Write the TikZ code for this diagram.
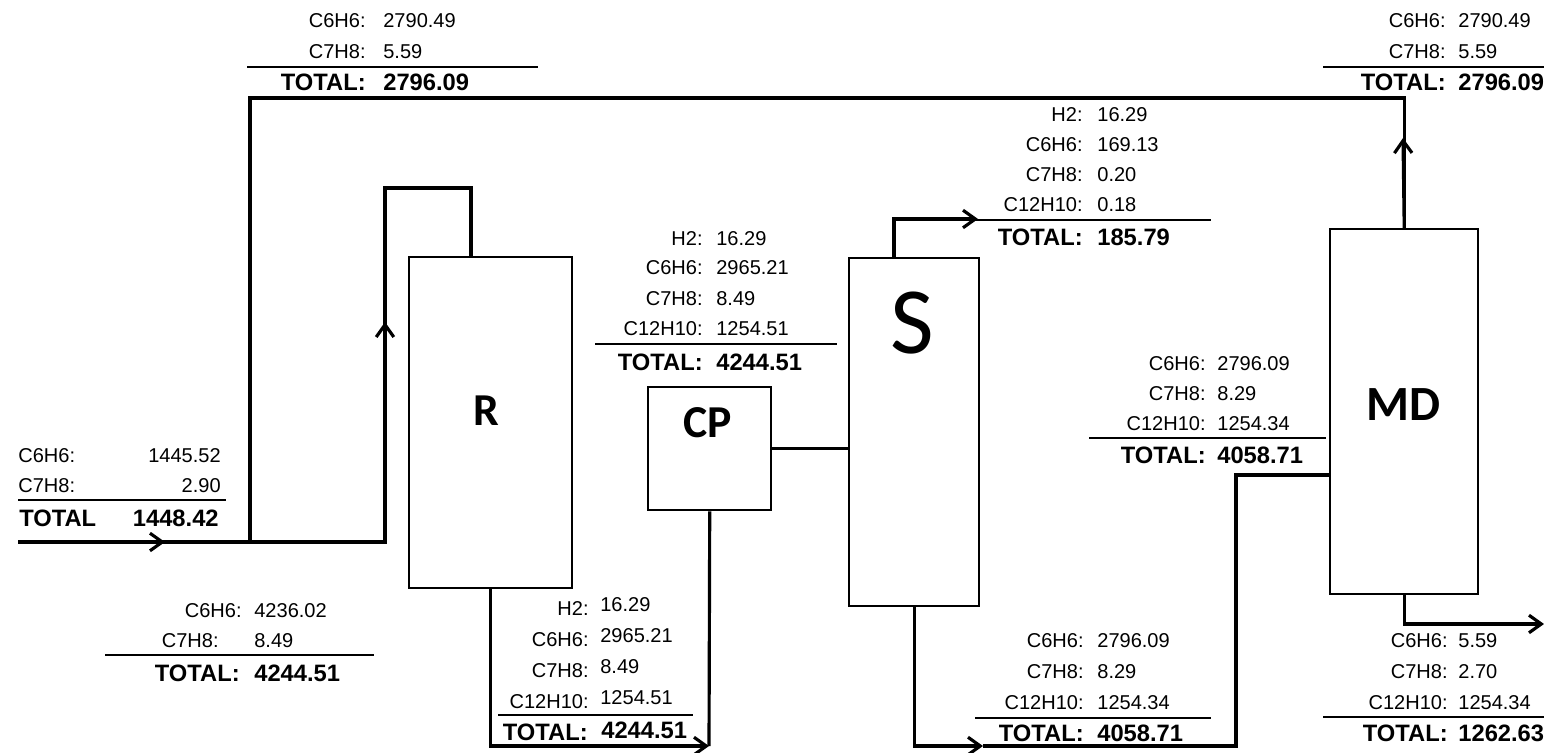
\documentclass[tikz,border=0pt]{standalone}
\usepackage{fontspec}
\setmainfont{Liberation Sans}
\newfontfamily\unitfont{Carlito}
\usepackage{tikz}
\usetikzlibrary{arrows.meta}
\tikzset{
  unit/.style={draw,line width=1.4pt,inner sep=0pt,anchor=north west},
  unitname/.style={anchor=base,inner sep=0pt,font=\unitfont\bfseries\fontsize{26}{26}\selectfont},
  flow/.style={line width=1.8pt},
  arr/.style={line width=1.8pt,-{Straight Barb[length=7pt,width=10pt]}},
  rule/.style={line width=1.4pt},
  lab/.style={inner sep=0pt,font=\fontsize{11.4}{13}\selectfont},
  key/.style={lab,anchor=base east},
  val/.style={lab,anchor=base west},
  tot/.style={inner sep=0pt,font=\bfseries\fontsize{13.5}{15}\selectfont},
  totkey/.style={tot,anchor=base east},
  totval/.style={tot,anchor=base west}
}
\begin{document}
\begin{tikzpicture}[x=0.02cm,y=-0.02cm]
\useasboundingbox (0,0) rectangle (1544,753);
% units
\node[unit,minimum width=3.26cm,minimum height=6.62cm] (R) at (408,256) {};
\node[unit,minimum width=2.46cm,minimum height=2.46cm] (CP) at (647,386) {};
\node[unit,minimum width=2.6cm,minimum height=6.96cm] (S) at (848,257) {};
\node[unit,minimum width=2.96cm,minimum height=7.3cm] (MD) at (1329,228) {};
\node[unitname] (Rname) at (486,425) {R};
\node[unitname] (CPname) at (708,437) {CP};
\node[unitname,font=\unitfont\fontsize{54}{54}\selectfont] (Sname) at (912,353) {S};
\node[unitname,font=\unitfont\bfseries\fontsize{28}{28}\selectfont] (MDname) at (1403,420) {MD};
% streams
\coordinate (feed) at (18,542);
\coordinate (mix) at (250,542);
\coordinate (up) at (385,188);
\coordinate (top) at (250,98);
\coordinate (rprod) at (709,746);
\coordinate (vap) at (978,219);
\coordinate (liq) at (983,746);
\coordinate (riser) at (1236,475);
\coordinate (bot) at (1544,624);
\draw[flow] (feed) -| (up) -| ([xshift=1.26cm]R.north west);
\draw[arr] (feed) -- (165,542);
\draw[arr] (385,542) -- (385,322);
\draw[flow] (MD.north) |- (top) -- (mix);
\draw[arr] (MD.north) -- (1403,138);
\draw[arr] (R.south) |- (rprod);
\draw[flow] (rprod) -- (CP.south);
\draw[flow] (CP.east) -- (CP.east -| S.west);
\draw[arr] ([xshift=0.92cm]S.north west) |- (vap);
\draw[arr] (S.south) |- (liq);
\draw[flow] (liq) -| (riser) -- (riser -| MD.west);
\draw[arr] (MD.south) |- (bot);
% recycle
\foreach \k/\v [count=\i from 0] in {C6H6/2790.49,C7H8/5.59}
  {\node[key] (reck\i) at (366,{28+31*\i}) {\k:}; \node[val] (recv\i) at (383,{28+31*\i}) {\v};}
\draw[rule] (247,67) -- (538,67);
\node[totkey] (rectk) at (366,91) {TOTAL:};
\node[totval] (rectv) at (383,91) {2796.09};
% distillate
\foreach \k/\v [count=\i from 0] in {C6H6/2790.49,C7H8/5.59}
  {\node[key] (distk\i) at (1446,{28+31*\i}) {\k:}; \node[val] (distv\i) at (1458,{28+31*\i}) {\v};}
\draw[rule] (1323,67) -- (1544,67);
\node[totkey] (disttk) at (1446,91) {TOTAL:};
\node[totval] (disttv) at (1458,91) {2796.09};
% fresh feed
\node[val] (feedk0) at (18,462) {C6H6:};
\node[key] (feedv0) at (221,462) {1445.52};
\node[val] (feedk1) at (18,492) {C7H8:};
\node[key] (feedv1) at (221,492) {2.90};
\draw[rule] (18,500) -- (226,500);
\node[totval] (feedtk) at (19,526) {TOTAL};
\node[totkey] (feedtv) at (219,526) {1448.42};
% reactor feed
\node[key] (mixk0) at (242,617) {C6H6:};
\node[val] (mixv0) at (254,617) {4236.02};
\node[key] (mixk1) at (219,647) {C7H8:};
\node[val] (mixv1) at (254,647) {8.49};
\draw[rule] (105,655) -- (374,655);
\node[totkey] (mixtk) at (240,681) {TOTAL:};
\node[totval] (mixtv) at (254,681) {4244.51};
% reactor outlet
\foreach \k/\v [count=\i from 0] in {H2/16.29,C6H6/2965.21,C7H8/8.49,C12H10/1254.51}
  {\node[key] (routk\i) at (589,{615+31*\i}) {\k:}; \node[val] (routv\i) at (600,{611+31*\i}) {\v};}
\draw[rule] (498,715) -- (693,715);
\node[totkey] (routtk) at (588,740) {TOTAL:};
\node[totval] (routtv) at (601,738) {4244.51};
% compressor
\foreach \k/\v [count=\i from 0] in {H2/16.29,C6H6/2965.21,C7H8/8.49,C12H10/1254.51}
  {\node[key] (cpk\i) at (703,{245+30*\i}) {\k:}; \node[val] (cpv\i) at (716,{245+30*\i}) {\v};}
\draw[rule] (595,344) -- (837,344);
\node[totkey] (cptk) at (703,370) {TOTAL:};
\node[totval] (cptv) at (716,370) {4244.51};
% vapour
\foreach \k/\v [count=\i from 0] in {H2/16.29,C6H6/169.13,C7H8/0.20,C12H10/0.18}
  {\node[key] (vapk\i) at (1083,{122+30*\i}) {\k:}; \node[val] (vapv\i) at (1097,{122+30*\i}) {\v};}
\draw[rule] (974,220) -- (1211,220);
\node[totkey] (vaptk) at (1083,245) {TOTAL:};
\node[totval] (vaptv) at (1097,245) {185.79};
% column feed
\foreach \k/\v [count=\i from 0] in {C6H6/2796.09,C7H8/8.29,C12H10/1254.34}
  {\node[key] (mdk\i) at (1206,{370+30*\i}) {\k:}; \node[val] (mdv\i) at (1217,{370+30*\i}) {\v};}
\draw[rule] (1089,438) -- (1326,438);
\node[totkey] (mdtk) at (1206,463) {TOTAL:};
\node[totval] (mdtv) at (1217,463) {4058.71};
% separator liquid
\foreach \k/\v [count=\i from 0] in {C6H6/2796.09,C7H8/8.29,C12H10/1254.34}
  {\node[key] (liqk\i) at (1084,{647+31*\i}) {\k:}; \node[val] (liqv\i) at (1097,{647+31*\i}) {\v};}
\draw[rule] (975,718) -- (1211,718);
\node[totkey] (liqtk) at (1084,741) {TOTAL:};
\node[totval] (liqtv) at (1097,741) {4058.71};
% bottoms
\foreach \k/\v [count=\i from 0] in {C6H6/5.59,C7H8/2.70,C12H10/1254.34}
  {\node[key] (btmk\i) at (1448,{647+31*\i}) {\k:}; \node[val] (btmv\i) at (1458,{647+31*\i}) {\v};}
\draw[rule] (1323,717) -- (1544,717);
\node[totkey] (btmtk) at (1448,741) {TOTAL:};
\node[totval] (btmtv) at (1458,741) {1262.63};
\end{tikzpicture}
\end{document}
